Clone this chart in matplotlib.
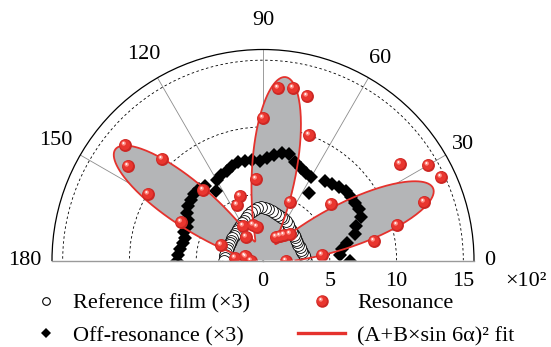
import numpy as np
import matplotlib
matplotlib.use("Agg")
import matplotlib.pyplot as plt
from matplotlib.lines import Line2D
from matplotlib.path import Path
from matplotlib.legend_handler import HandlerTuple

plt.rcParams['font.family'] = ['Liberation Serif', 'DejaVu Serif']
plt.rcParams['font.size'] = 16

# polarization angle (deg) and SHG intensity (x10^2)
res_angle = list(range(0, 181, 5))
res_r = [1.72, 4.45, 8.45, 10.37, 12.8, 14.72, 14.31, 12.56, 6.6, 2.83,
         2.48, 2.2, 2.0, 4.8, 10.0, 12.79, 13.12, 12.98, 10.66, 6.1,
         2.58, 2.79, 5.1, 4.6, 2.97, 2.17, 6.94, 10.7, 13.45, 12.33,
         9.95, 6.75, 3.35, 1.41, 1.3, 2.12, 0.9]

off_angle = list(range(0, 181, 4))
off_r = [6.5, 5.8, 6.0, 6.4, 7.2, 7.45, 8.0, 8.15, 8.1, 8.1,
         8.1, 7.9, 7.7, 7.55, 6.1, 7.25, 7.3, 7.5, 7.75, 8.2,
         8.15, 7.95, 7.65, 7.45, 7.55, 7.6, 7.6, 7.45, 7.25, 7.1,
         6.95, 6.3, 7.1, 7.2, 7.15, 7.0, 6.9, 6.7, 6.4, 6.2,
         6.3, 6.05, 6.15, 6.25, 6.4, 6.45]

ref_angle = list(range(0, 181, 4))
ref_r = [3.2, 3.15, 3.1, 3.0, 2.95, 2.95, 2.9, 2.9, 2.9, 2.95,
         3.0, 3.05, 3.1, 3.2, 3.3, 3.4, 3.5, 3.55, 3.6, 3.7,
         3.8, 3.9, 3.95, 4.0, 3.95, 3.85, 3.75, 3.6, 3.45, 3.3,
         3.2, 3.1, 3.0, 2.95, 2.9, 2.85, 2.85, 2.8, 2.8, 2.8,
         2.8, 2.8, 2.8, 2.85, 2.85, 2.9]

# (A + B sin 6a)^2 fit
FIT_A = 2.48
FIT_B = 1.24
FIT_PHASE = 8.0  # deg

theta_labels = [0, 30, 60, 90, 120, 150, 180]
r_labels = [0, 5, 10, 15]

RED = '#e5322d'
GRAY = '#b4b5b7'


def ball_layer(cx, cy, rad):
    circ = Path.circle((cx, cy), rad)
    # zero-area subpath keeps the marker scale fixed
    pin = Path([(0.5, 0.5), (-0.5, -0.5)], [Path.MOVETO, Path.LINETO])
    return Path.make_compound_path(circ, pin)


BALL = [(ball_layer(0, 0, 0.5), '#cc2724'),
        (ball_layer(-0.05, 0.05, 0.4), '#e9362f'),
        (ball_layer(-0.14, 0.16, 0.17), '#ff8d85'),
        (ball_layer(-0.16, 0.19, 0.07), '#ffffff')]

fig = plt.figure(figsize=(5.51, 3.47), dpi=100)
ax = fig.add_axes([52 / 551, -19 / 347, 422 / 551, 422 / 347], projection='polar')
ax.set_thetamin(0)
ax.set_thetamax(180)
ax.set_rlim(0, 15.8)

# fit curve
fit_t = np.linspace(0, np.pi, 721)
fit_r = (FIT_A + FIT_B * np.sin(6 * (fit_t - np.deg2rad(FIT_PHASE)))) ** 2
ax.fill(fit_t, fit_r, color=GRAY, lw=0, zorder=1)
ax.plot(fit_t, fit_r, color=RED, lw=1.3, zorder=4)

ax.plot(np.deg2rad(ref_angle), ref_r, ls='none', marker='o', ms=8.5,
        mfc='white', mec='black', mew=0.6, zorder=2)
ax.plot(np.deg2rad(off_angle), off_r, ls='none', marker='D', ms=7,
        mfc='black', mec='black', mew=0, zorder=3)
for i, (path, col) in enumerate(BALL):
    ax.plot(np.deg2rad(res_angle), res_r, ls='none', marker=path, ms=9.3,
            mfc=col, mec='none', mew=0, zorder=5 + i)

# axes styling
ax.set_xticks(np.deg2rad(theta_labels))
ax.set_xticklabels([])
ax.set_xticks(np.deg2rad([15, 45, 75, 105, 135, 165]), minor=True)
ax.tick_params(axis='x', which='major', direction='in', length=7, width=0.8, color='black')
ax.tick_params(axis='x', which='minor', direction='in', length=4, width=0.6, color='black')
ax.set_yticks([5, 10, 15])
ax.set_yticklabels([])
ax.tick_params(axis='y', length=0)
ax.set_axisbelow(True)
ax.xaxis.grid(True, color='#8c8c8c', lw=0.6, ls='-')
ax.yaxis.grid(True, color='black', lw=0.6, ls=(0, (3, 3)))
ax.spines['polar'].set(color='black', lw=0.9)
for s in ('start', 'end'):
    ax.spines[s].set(color='#9a9a9a', lw=1.0)

label_r = {0: 16.95, 30: 17.3, 60: 17.5, 90: 17.95, 120: 17.85, 150: 17.95, 180: 17.85}
for a in theta_labels:
    ax.text(np.deg2rad(a), label_r[a], str(a), ha='center', va='center', clip_on=False)

for r in r_labels:
    ax.annotate(str(r), xy=(0, r), xytext=(0, -8), textcoords='offset points',
                ha='center', va='top', annotation_clip=False)
ax.annotate('×10²', xy=(0, 15), xytext=(30, -8), textcoords='offset points',
            ha='left', va='top', annotation_clip=False)

# legends
h_ref = Line2D([], [], ls='none', marker='o', ms=5.5, mfc='white', mec='black', mew=0.8)
h_off = Line2D([], [], ls='none', marker='D', ms=5.2, mfc='black', mec='black', mew=0)
h_res = tuple(Line2D([], [], ls='none', marker=p, ms=9, mfc=c, mec='none', mew=0)
              for p, c in BALL)
h_fit = Line2D([], [], color=RED, lw=2.4)

leg_kw = dict(loc='center left', frameon=False, borderpad=0, borderaxespad=0,
              labelspacing=0.55)
fig.legend([h_ref, h_off], ['Reference film (×3)', 'Off-resonance (×3)'],
           bbox_to_anchor=(35 / 551, 0.0793), handlelength=1.0, handletextpad=0.7,
           **leg_kw)
fig.legend([h_res, h_fit], ['Resonance', '(A+B×sin 6α)² fit'],
           bbox_to_anchor=(298 / 551, 0.0793), handlelength=2.12, handletextpad=0.54,
           handler_map={tuple: HandlerTuple(ndivide=1)}, **leg_kw)

fig.savefig('out.png', dpi=100, facecolor='white')
